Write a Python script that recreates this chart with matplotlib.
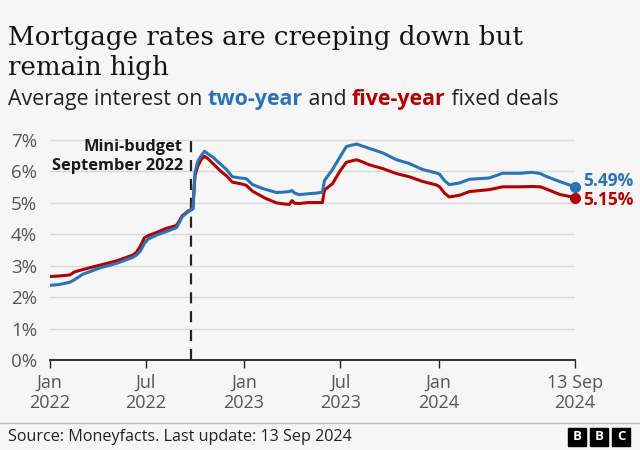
import matplotlib
matplotlib.use("Agg")
import matplotlib.pyplot as plt
from matplotlib.patches import Rectangle
import pandas as pd

# average fixed mortgage rates (%)
dates = ["2022-01-01", "2022-01-20", "2022-02-08", "2022-02-17", "2022-03-04",
         "2022-04-05", "2022-05-07", "2022-06-06", "2022-06-13", "2022-06-20",
         "2022-06-28", "2022-07-05", "2022-07-21", "2022-08-08", "2022-08-27",
         "2022-09-01", "2022-09-07", "2022-09-18", "2022-09-27", "2022-10-01",
         "2022-10-06", "2022-10-13", "2022-10-19", "2022-10-25", "2022-11-03",
         "2022-11-18", "2022-11-29", "2022-12-10", "2022-12-25", "2023-01-05",
         "2023-01-17", "2023-02-01", "2023-02-12", "2023-03-03", "2023-03-15",
         "2023-03-27", "2023-04-01", "2023-04-06", "2023-04-15", "2023-05-01",
         "2023-05-17", "2023-05-28", "2023-06-01", "2023-06-16", "2023-06-30",
         "2023-07-12", "2023-07-31", "2023-08-10", "2023-08-24", "2023-09-18",
         "2023-10-14", "2023-11-07", "2023-12-02", "2023-12-28", "2024-01-03",
         "2024-01-12", "2024-01-21", "2024-02-09", "2024-02-28", "2024-04-05",
         "2024-04-30", "2024-06-01", "2024-06-25", "2024-07-10", "2024-07-21",
         "2024-08-15", "2024-09-01", "2024-09-13"]
two_year = [2.37, 2.40, 2.47, 2.55, 2.72, 2.92, 3.07, 3.26, 3.33, 3.45,
            3.70, 3.84, 3.97, 4.08, 4.20, 4.35, 4.55, 4.70, 4.80, 5.95,
            6.30, 6.50, 6.63, 6.55, 6.45, 6.22, 6.05, 5.82, 5.78, 5.76,
            5.57, 5.47, 5.41, 5.32, 5.33, 5.35, 5.38, 5.30, 5.25, 5.28,
            5.30, 5.33, 5.70, 6.05, 6.45, 6.78, 6.86, 6.80, 6.72, 6.58,
            6.36, 6.24, 6.05, 5.94, 5.90, 5.70, 5.57, 5.62, 5.74, 5.78,
            5.93, 5.93, 5.96, 5.92, 5.83, 5.67, 5.57, 5.49]
five_year = [2.65, 2.67, 2.70, 2.80, 2.87, 3.01, 3.15, 3.33, 3.42, 3.60,
             3.88, 3.95, 4.05, 4.18, 4.27, 4.40, 4.58, 4.73, 4.80, 5.85,
             6.15, 6.38, 6.47, 6.40, 6.25, 6.00, 5.85, 5.65, 5.60, 5.55,
             5.36, 5.22, 5.12, 4.99, 4.96, 4.94, 5.06, 4.98, 4.97, 5.00,
             5.00, 5.00, 5.40, 5.60, 6.00, 6.28, 6.36, 6.30, 6.20, 6.08,
             5.92, 5.82, 5.67, 5.56, 5.50, 5.30, 5.18, 5.23, 5.35, 5.41,
             5.50, 5.50, 5.51, 5.50, 5.43, 5.26, 5.20, 5.15]
tick_dates = ["2022-01-01", "2022-07-01", "2023-01-01", "2023-07-01", "2024-01-01", "2024-09-13"]
tick_labels = ["Jan\n2022", "Jul\n2022", "Jan\n2023", "Jul\n2023", "Jan\n2024", "13 Sep\n2024"]
mini_budget = "2022-09-23"

BLUE = "#2b73b6"
RED = "#b00000"
BG = "#f6f6f6"
SANS = ["Open Sans", "DejaVu Sans"]

x = pd.to_datetime(dates)

fig = plt.figure(figsize=(6.4, 4.5), dpi=100, facecolor=BG)
ax = fig.add_axes([49.5 / 640, 90 / 450, (575 - 49.5) / 640, 233 / 450])
ax.set_facecolor(BG)

ax.plot(x, five_year, color=RED, lw=2.2, solid_joinstyle="round", zorder=3)
ax.plot(x, two_year, color=BLUE, lw=2.2, solid_joinstyle="round", zorder=4)
ax.plot(x[-1], five_year[-1], "o", color=RED, ms=7, clip_on=False, zorder=5)
ax.plot(x[-1], two_year[-1], "o", color=BLUE, ms=7, clip_on=False, zorder=5)

ax.annotate("5.49%", (x[-1], two_year[-1]), xytext=(8, 6), textcoords="offset pixels",
            color=BLUE, fontsize=12.5, fontweight="bold", family=SANS,
            va="center", ha="left", annotation_clip=False)
ax.annotate("5.15%", (x[-1], five_year[-1]), xytext=(8, -2), textcoords="offset pixels",
            color=RED, fontsize=12.5, fontweight="bold", family=SANS,
            va="center", ha="left", annotation_clip=False)

# mini-budget marker
mb = pd.Timestamp(mini_budget)
ax.plot([mb, mb], [0, 7.15], color="#222222", lw=1.6, dashes=(5, 3.5), zorder=2)
ax.annotate("Mini-budget\nSeptember 2022", (mb, 6.46), xytext=(-8, 0),
            textcoords="offset pixels", ha="right", va="center", fontsize=11.8,
            fontweight="bold", family=SANS, color="#1a1a1a", linespacing=1.25)

ax.set_xlim(pd.Timestamp("2022-01-01"), pd.Timestamp("2024-09-13"))
ax.set_ylim(0, 7.4)
ax.set_yticks(range(8))
ax.set_yticklabels([f"{i}%" for i in range(8)], family=SANS, fontsize=13.5, color="#555555")
ax.set_xticks(pd.to_datetime(tick_dates))
ax.set_xticklabels(tick_labels, family=SANS, fontsize=13, color="#555555", linespacing=1.15)
ax.tick_params(axis="y", length=0, pad=9)
ax.tick_params(axis="x", length=6, width=1, color="#222222", pad=4)
ax.grid(axis="y", color="#d8d8d8", lw=1)
ax.set_axisbelow(True)
for s in ["top", "right", "left"]:
    ax.spines[s].set_visible(False)
ax.spines["bottom"].set_color("#222222")
ax.spines["bottom"].set_linewidth(1.3)
ax.spines["bottom"].set_zorder(6)

# titles
fig.text(8 / 640, 1 - 38 / 450, "Mortgage rates are creeping down but", family="DejaVu Serif",
         fontsize=18.8, color="#141414", va="center")
fig.text(8 / 640, 1 - 68 / 450, "remain high", family="DejaVu Serif",
         fontsize=18.8, color="#141414", va="center")

renderer = fig.canvas.get_renderer()
pieces = [("Average interest on ", "#222222", "normal"), ("two-year", BLUE, "bold"),
          (" and ", "#222222", "normal"), ("five-year", RED, "bold"),
          (" fixed deals", "#222222", "normal")]
xpos = 8
for txt, col, w in pieces:
    t = fig.text(xpos / 640, 1 - 105 / 450, txt, family=SANS, fontsize=15.4, color=col,
                 fontweight=w, va="baseline")
    xpos += t.get_window_extent(renderer).width

# footer
fig.add_artist(plt.Line2D([0, 1], [1 - 423 / 450] * 2, color="#bbbbbb", lw=1,
                          transform=fig.transFigure))
fig.text(8 / 640, 1 - 437 / 450, "Source: Moneyfacts. Last update: 13 Sep 2024",
         family=SANS, fontsize=11.6, color="#222222", va="center")
for i, letter in enumerate("BBC"):
    x0 = 568 + i * 22
    fig.add_artist(Rectangle((x0 / 640, 1 - 446 / 450), 18 / 640, 18 / 450,
                             color="black", transform=fig.transFigure))
    fig.text((x0 + 9) / 640, 1 - 437 / 450, letter, color="white", fontsize=9.5,
             fontweight="bold", family=SANS, ha="center", va="center")

fig.savefig("out.png", dpi=100, facecolor=BG)
